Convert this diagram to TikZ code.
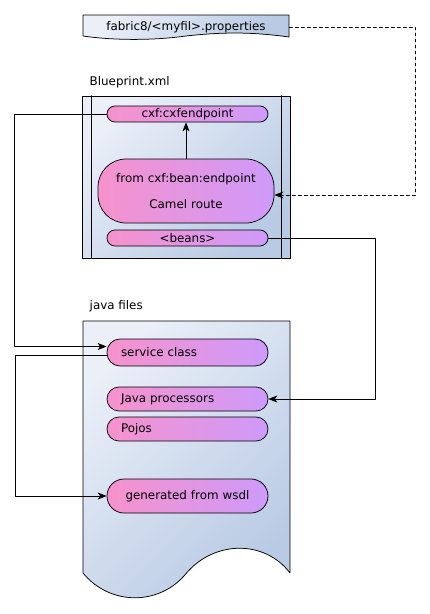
\documentclass[tikz,border=0pt]{standalone}
\usepackage{fontspec}
\setmainfont{DejaVu Sans}
\usetikzlibrary{arrows.meta}
\definecolor{pillleft}{RGB}{246,146,204}
\definecolor{pillright}{RGB}{206,154,250}
\definecolor{boxlight}{RGB}{234,239,248}
\definecolor{boxdark}{RGB}{184,202,228}

\begin{document}
\begin{tikzpicture}[line cap=round,line join=round,>={Stealth[length=9pt,width=7pt,inset=2.5pt]},x=1pt,y=-1pt,
  line width=0.75pt,
  every node/.style={font=\fontsize{11.9}{14}\selectfont},
  pill/.style={draw,left color=pillleft,right color=pillright,inner sep=0pt,
    minimum width=161pt,text width=133pt,align=center},
  pillleft/.style={pill,align=left},
  container/.style={draw,top color=boxlight,bottom color=boxdark,shading angle=45}]
\useasboundingbox (0,0) rectangle (430,614);

\draw [container] (83,15) -- (289,15) -- (289,37) .. controls (260,33) and (230,31) .. (186,36) .. controls (150,41) and (110,40) .. (83,36) -- cycle;
\node (props) at (186,27) [minimum width=206pt,inner sep=0pt] {fabric8/<myfil>.properties};

\node [anchor=west] (bplabel) at (86,82) {Blueprint.xml};
\node [container,minimum width=208pt,minimum height=162pt] (blueprint) at (186,177) {};
\draw ([xshift=10pt]blueprint.north west) -- ([xshift=10pt]blueprint.south west);
\draw ([xshift=-9pt]blueprint.north east) -- ([xshift=-9pt]blueprint.south east);

\node [pill,minimum height=16pt,rounded corners=8pt] (cxf) at (187.5,114) {cxf:cxfendpoint};
\node [pill,minimum width=176pt,text width=150pt,minimum height=64pt,rounded corners=28pt] (camel) at (186,191) {from cxf:bean:endpoint\\[12pt]Camel route};
\node [pill,minimum height=16pt,rounded corners=8pt] (beans) at (187.5,238) {<beans>};

\node [anchor=west] (javalabel) at (86,306) {java files};
\draw [container] (83,321) -- (290,321) -- (290,573) .. controls (265,540) and (215,540) .. (186.5,573) .. controls (160,606) and (110,606) .. (83,573) -- cycle;

\node [pillleft,minimum height=27pt,rounded corners=13pt] (service) at (187.5,352.5) {service class};
\node [pillleft,minimum height=24pt,rounded corners=12pt] (javaproc) at (187.5,399) {Java processors};
\node [pillleft,minimum height=24pt,rounded corners=12pt] (pojos) at (187.5,429) {Pojos};
\node [pill,minimum height=34pt,rounded corners=17pt] (gen) at (187.5,496) {generated from wsdl};

% connectors
\draw [->,dashed] (props.east) -- ++(126,0) |- ([yshift=-4pt]camel.east);
\draw [->] (camel.north) -- (camel.north |- cxf.south);
\draw [->] (cxf.west) -- ++(-92,0) |- ([yshift=6pt]service.west);
\draw [->] ([yshift=-3pt]service.west) -- ++(-91,0) |- (gen.west);
\draw [->] (beans.east) -- ++(107,0) |- (javaproc.east);

\end{tikzpicture}
\end{document}
